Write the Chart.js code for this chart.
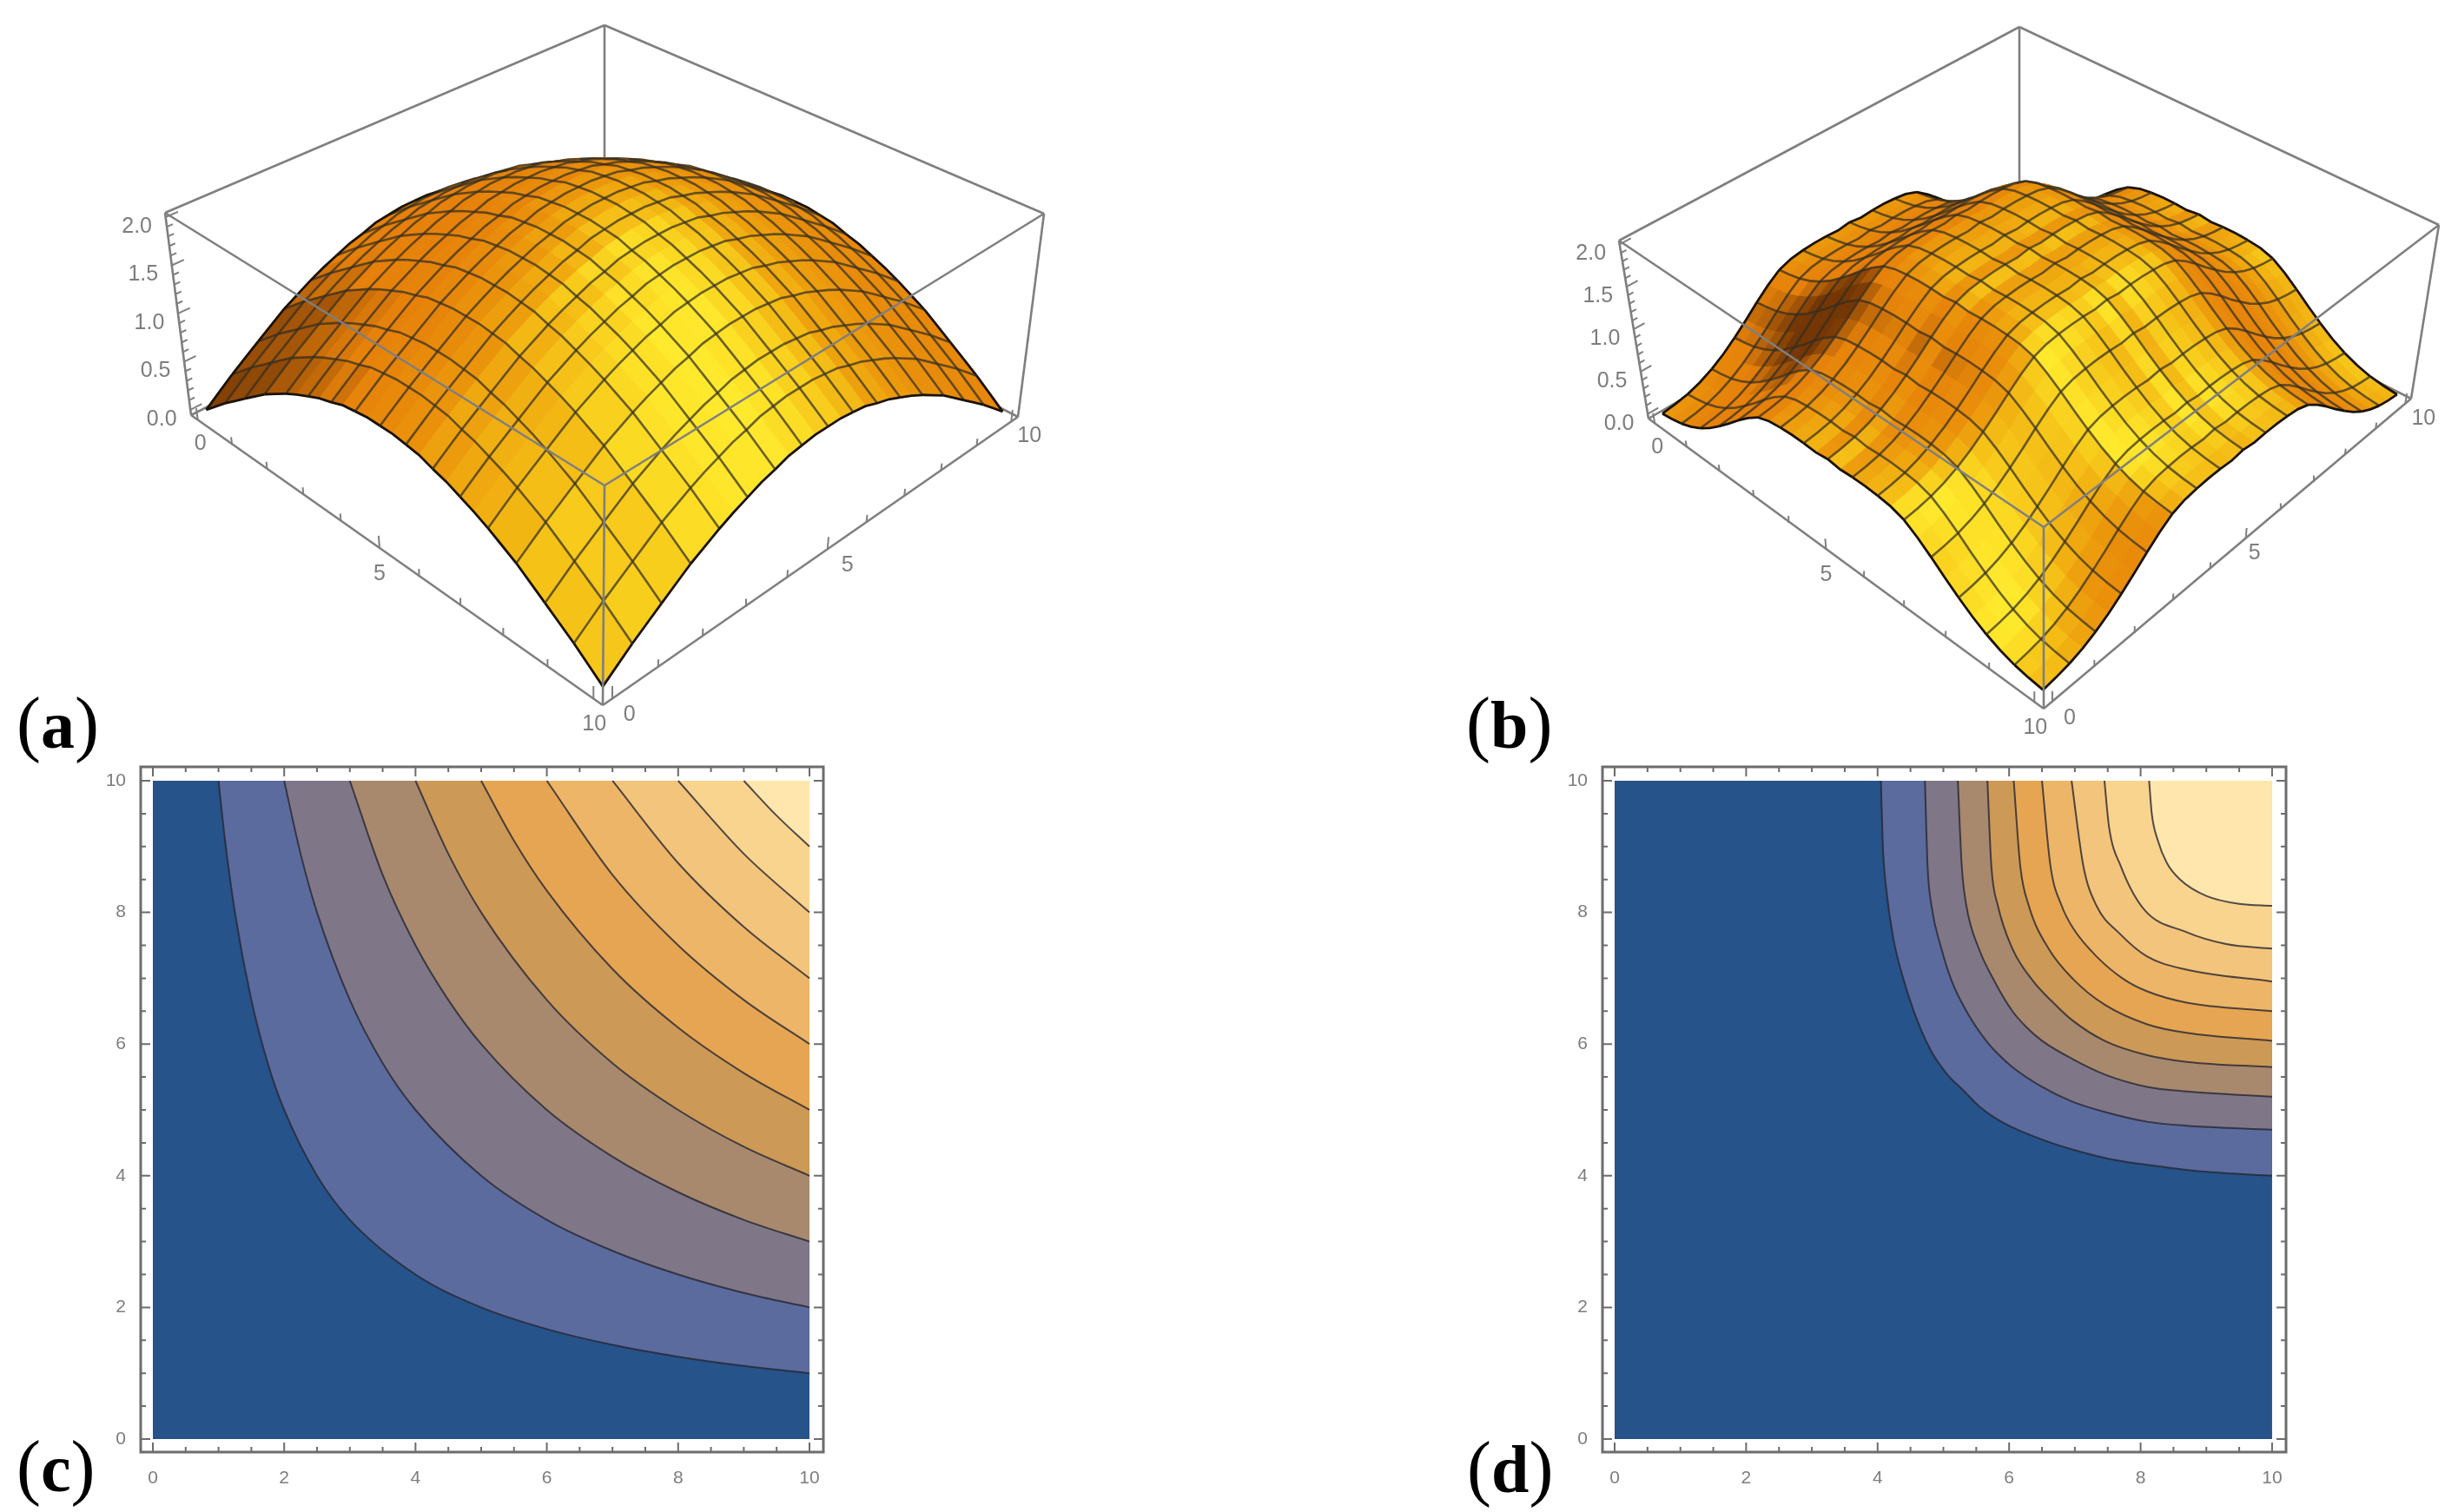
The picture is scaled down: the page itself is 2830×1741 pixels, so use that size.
<!DOCTYPE html>
<html>
<head>
<meta charset="utf-8">
<title>Surfaces and contours</title>
<script src="https://cdn.jsdelivr.net/npm/chart.js@4/dist/chart.umd.min.js"></script>
<style>
  html, body { margin: 0; background: #fff; }
  body { position: relative; width: 2830px; height: 1741px; overflow: hidden; }
  canvas { position: absolute; }
  .tag { position: absolute; font-family: "Liberation Serif", serif; font-size: 84px; line-height: 84px; color: #000; }
  .tag b { font-size: 78px; }
</style>
</head>
<body>
<canvas id="surfaceA" width="1400" height="870" style="left:0;top:0"></canvas>
<canvas id="surfaceB" width="1400" height="870" style="left:1430px;top:0"></canvas>
<canvas id="contourC" width="866" height="860" style="left:102px;top:873px"></canvas>
<canvas id="contourD" width="867" height="860" style="left:1785px;top:873px"></canvas>
<div class="tag" style="left:19px;top:791px">(<b>a</b>)</div>
<div class="tag" style="left:1688px;top:791px">(<b>b</b>)</div>
<div class="tag" style="left:19px;top:1647px">(<b>c</b>)</div>
<div class="tag" style="left:1689px;top:1648px">(<b>d</b>)</div>
<script>
// height of one side of the surface, sampled 33 times along an edge
const edgeProfileA = [0, .11, .22, .32, .42, .52, .62, .70, .78, .85, .91, .97, 1.01, 1.06, 1.08, 1.10, 1.10,
  1.10, 1.08, 1.06, 1.01, .97, .91, .85, .78, .70, .62, .52, .42, .32, .22, .11, 0];
const edgeProfileB = [0, .02, .05, .10, .17, .26, .37, .49, .62, .74, .84, .89, .91, .92, .92, .91, .93,
  .91, .92, .92, .91, .89, .84, .74, .62, .49, .37, .26, .17, .10, .05, .02, 0];

const zMajorTicks = [0, .5, 1, 1.5, 2];
const zMinorTicks = [.1, .2, .3, .4, .6, .7, .8, .9, 1.1, 1.2, 1.3, 1.4, 1.6, 1.7, 1.8, 1.9];
const zLabels = ['0.0', '0.5', '1.0', '1.5', '2.0'];
const baseMajorTicks = [0, 5, 10];
const baseMinorTicks = [1, 2, 3, 4, 6, 7, 8, 9];

// contour lines, lowest level first
const contoursC = [
  [[1, 10], [1.1, 9.09], [1.25, 8], [1.5, 6.67], [1.75, 5.71], [2, 5], [2.5, 4], [3, 3.33], [4, 2.5], [5, 2], [6, 1.67], [7, 1.43], [8, 1.25], [9, 1.11], [10, 1]],
  [[2, 10], [2.25, 8.89], [2.5, 8], [3, 6.67], [3.5, 5.71], [4, 5], [5, 4], [6, 3.33], [7, 2.86], [8, 2.5], [9, 2.22], [10, 2]],
  [[3, 10], [3.5, 8.57], [4, 7.5], [4.5, 6.67], [5, 6], [6, 5], [7, 4.29], [8, 3.75], [9, 3.33], [10, 3]],
  [[4, 10], [4.5, 8.89], [5, 8], [6, 6.67], [7, 5.71], [8, 5], [9, 4.44], [10, 4]],
  [[5, 10], [5.5, 9.09], [6, 8.33], [7, 7.14], [8, 6.25], [9, 5.56], [10, 5]],
  [[6, 10], [7, 8.57], [8, 7.5], [9, 6.67], [10, 6]],
  [[7, 10], [8, 8.75], [9, 7.78], [10, 7]],
  [[8, 10], [9, 8.89], [10, 8]],
  [[9, 10], [9.5, 9.47], [10, 9]]
];
const contoursD = [
  [[4.05, 10], [4.08, 9], [4.13, 8.37], [4.24, 7.6], [4.38, 7.03], [4.55, 6.5], [4.8, 5.92], [5.05, 5.55], [5.3, 5.3], [5.55, 5.05], [5.92, 4.8], [6.5, 4.55], [7.03, 4.38], [7.6, 4.24], [8.37, 4.13], [9, 4.06], [10, 4]],
  [[4.72, 10], [4.76, 8.7], [4.82, 8.1], [4.97, 7.45], [5.13, 6.95], [5.35, 6.5], [5.65, 6.05], [5.84, 5.84], [6.05, 5.65], [6.5, 5.35], [6.95, 5.13], [7.45, 4.97], [8.1, 4.82], [8.7, 4.76], [10, 4.7]],
  [[5.22, 10], [5.28, 8.7], [5.35, 8.1], [5.54, 7.45], [5.78, 6.95], [6.05, 6.5], [6.26, 6.26], [6.5, 6.05], [6.95, 5.78], [7.45, 5.54], [8.1, 5.35], [8.7, 5.28], [10, 5.2]],
  [[5.67, 10], [5.73, 8.7], [5.83, 8.1], [6.05, 7.45], [6.37, 6.95], [6.65, 6.65], [6.95, 6.37], [7.45, 6.05], [8.1, 5.83], [8.7, 5.73], [10, 5.65]],
  [[6.07, 10], [6.17, 8.7], [6.3, 8.1], [6.6, 7.45], [6.98, 6.98], [7.45, 6.6], [8.1, 6.3], [8.7, 6.17], [10, 6.05]],
  [[6.5, 10], [6.63, 8.7], [6.8, 8.1], [6.98, 7.75], [7.33, 7.33], [7.75, 6.98], [8.1, 6.8], [8.7, 6.63], [10, 6.5]],
  [[6.95, 10], [7.13, 8.7], [7.33, 8.1], [7.68, 7.68], [8.1, 7.33], [8.7, 7.13], [10, 6.95]],
  [[7.45, 10], [7.52, 9.3], [7.7, 8.7], [8.05, 8.05], [8.7, 7.7], [9.3, 7.52], [10, 7.45]],
  [[8.13, 10], [8.17, 9.5], [8.26, 9.1], [8.4, 8.75], [8.6, 8.5], [9, 8.25], [9.5, 8.13], [10, 8.1]]
];
const bandColors = ['#5b6b9e', '#7f7787', '#a8896d', '#cc9957', '#e6a552', '#edb568', '#f3c47b', '#f9d48e', '#fee6ac'];
const baseColor = '#26538a';

const contourMajorTicks = [0, 2, 4, 6, 8, 10];
const contourMinorTicks = [.5, 1, 1.5, 2.5, 3, 3.5, 4.5, 5, 5.5, 6.5, 7, 7.5, 8.5, 9, 9.5];

// box corners on the page: left, back, right, front
const boxA = {
  top: [[190, 245], [696, 29], [1202, 246], [696, 559]],
  base: [[220, 478], [696, 235], [1172, 480], [694, 812]],
  labelShift: { z: [-33, 11], y: [[3, 28], [0, 30], [1, 30]], x: [[20, 19], [23, 19], [21, 17]] }
};
const boxB = {
  top: [[1864, 277], [2325, 31], [2808, 259], [2353, 607]],
  base: [[1898, 482], [2325, 232], [2776, 459], [2353, 816]],
  labelShift: { z: [-33, 11], y: [[3, 28], [0, 30], [1, 30]], x: [[20, 19], [10, 17], [21, 17]] }
};

const LABEL_GRAY = '#7d7d7d';
const BOX_GRAY = '#7f7f7f';
const Z_MIN = -.055;
const Z_MAX = 2.045;
const XY_PAD = .2;

function squareToQuad(p) {
  const [[x0, y0], [x1, y1], [x2, y2], [x3, y3]] = p;
  const dx1 = x1 - x2, dx2 = x3 - x2, sx = x0 - x1 + x2 - x3;
  const dy1 = y1 - y2, dy2 = y3 - y2, sy = y0 - y1 + y2 - y3;
  const den = dx1 * dy2 - dx2 * dy1;
  const g = (sx * dy2 - dx2 * sy) / den;
  const h = (dx1 * sy - sx * dy1) / den;
  const a = x1 - x0 + g * x1, b = x3 - x0 + h * x3;
  const d = y1 - y0 + g * y1, e = y3 - y0 + h * y3;
  return (u, v) => {
    const w = g * u + h * v + 1;
    return [(a * u + b * v + x0) / w, (d * u + e * v + y0) / w];
  };
}

function makeProjector(box) {
  const baseMap = squareToQuad(box.base);
  const topMap = squareToQuad(box.top);
  return (x, y, z) => {
    const u = (x + XY_PAD) / (10 + 2 * XY_PAD);
    const v = (y + XY_PAD) / (10 + 2 * XY_PAD);
    const b = baseMap(u, v), t = topMap(u, v);
    const w = (z - Z_MIN) / (Z_MAX - Z_MIN);
    return { x: b[0] + (t[0] - b[0]) * w, y: b[1] + (t[1] - b[1]) * w };
  };
}

// colour from the facet normal, tuned by eye to the reference
function shade(zu, zv) {
  const sx = zu / 5.5, sy = zv / 5.5;
  const len = Math.sqrt(sx * sx + sy * sy + 1);
  const nr = (-sx - sy) / Math.SQRT2 / len;
  const nf = (sx - sy) / Math.SQRT2 / len;
  const nz = 1 / len;
  const dr = nr - .18, df = nf - .45;
  const glow = Math.exp(-(dr * dr / .13 + df * df / .3));
  const light = .55 * nr - .15 * nf + .8 * nz;
  const t = Math.max(0, Math.min(1, (light - .2) / .16));
  const r = (.9 + .1 * glow) * (.5 + .5 * t);
  const g = (.5 + .42 * glow) * (.42 + .58 * t);
  const b = (.04 + .14 * glow * glow) * (.42 + .58 * t);
  return `rgb(${Math.round(r * 255)},${Math.round(g * 255)},${Math.round(b * 255)})`;
}

function lineSet(points, color, width, order) {
  return { data: points, borderColor: color, borderWidth: width, pointRadius: 0, fill: false, tension: 0, order };
}

function surfaceDatasets(profile, project) {
  const sets = [];
  const n = profile.length - 1;
  const step = 10 / n;
  const pt = (i, j) => project(i * step, j * step, profile[i] + profile[j]);
  // quads, far ones first through the order field
  for (let i = 0; i < n; i++) {
    for (let j = 0; j < n; j++) {
      const zu = (profile[i + 1] - profile[i]) * n;
      const zv = (profile[j + 1] - profile[j]) * n;
      const color = shade(zu, zv);
      sets.push({
        data: [pt(i, j), pt(i + 1, j), pt(i + 1, j + 1), pt(i, j + 1), pt(i, j)],
        backgroundColor: color, borderColor: color, borderWidth: 1,
        pointRadius: 0, fill: 'shape', tension: 0, order: 1000 - (j - i) * 10
      });
    }
  }
  // mesh, every second sample
  for (let a = 0; a <= n; a += 2) {
    const edge = a === 0 || a === n;
    const color = edge ? '#1a1208' : 'rgba(50,46,34,.72)';
    const width = edge ? 2.8 : 2.6;
    for (let b = 0; b < n; b += 2) {
      sets.push(lineSet([pt(a, b), pt(a, b + 1), pt(a, b + 2)], color, width, 1000 - (b + 3 - a) * 10 - 5));
      sets.push(lineSet([pt(b, a), pt(b + 1, a), pt(b + 2, a)], color, width, 1000 - (a + 3 - b) * 10 - 5));
    }
  }
  return sets;
}

function boxDatasets(box, project) {
  const sets = [];
  const [tl, tb, tr, tf] = box.top.map(p => ({ x: p[0], y: p[1] }));
  const [bl, bb, br, bf] = box.base.map(p => ({ x: p[0], y: p[1] }));
  // behind the surface
  [[tl, tb], [tb, tr], [tb, bb], [bl, bb], [bb, br]].forEach(seg => sets.push(lineSet(seg, BOX_GRAY, 2.6, 5000)));
  // in front of it
  [[tl, tf], [tr, tf], [tf, bf], [tl, bl], [tr, br], [bl, bf], [bf, br]].forEach(seg => sets.push(lineSet(seg, BOX_GRAY, 2.6, -1000)));

  const tick = (from, to) => sets.push(lineSet([from, to], BOX_GRAY, 2, -1000));
  zMajorTicks.forEach(z => tick(project(0 - XY_PAD, 0 - XY_PAD, z), project(.05, 0 - XY_PAD, z)));
  zMinorTicks.forEach(z => tick(project(0 - XY_PAD, 0 - XY_PAD, z), project(-.08, 0 - XY_PAD, z)));
  baseMajorTicks.forEach(v => {
    tick(project(0 - XY_PAD, v, Z_MIN), project(0 - XY_PAD, v, Z_MIN + .12));
    tick(project(v, 10 + XY_PAD, Z_MIN), project(v, 10 + XY_PAD, Z_MIN + .12));
  });
  baseMinorTicks.forEach(v => {
    tick(project(0 - XY_PAD, v, Z_MIN), project(0 - XY_PAD, v, Z_MIN + .07));
    tick(project(v, 10 + XY_PAD, Z_MIN), project(v, 10 + XY_PAD, Z_MIN + .07));
  });
  return sets;
}

function drawSurface(id, profile, box, left) {
  const project = makeProjector(box);
  const canvas = document.getElementById(id);
  const labels = {
    id: 'boxLabels',
    afterDraw(chart) {
      const { ctx, scales } = chart;
      const put = (text, p, shift) => {
        ctx.fillText(text, scales.x.getPixelForValue(p.x + shift[0]), scales.y.getPixelForValue(p.y + shift[1]));
      };
      ctx.save();
      ctx.font = '25px "Liberation Sans", sans-serif';
      ctx.fillStyle = LABEL_GRAY;
      ctx.textAlign = 'center';
      ctx.textBaseline = 'middle';
      zMajorTicks.forEach((z, i) => put(zLabels[i], project(0 - XY_PAD, 0 - XY_PAD, z), box.labelShift.z));
      baseMajorTicks.forEach((v, i) => {
        put(String(v), project(0 - XY_PAD, v, Z_MIN), box.labelShift.y[i]);
        put(String(v), project(v, 10 + XY_PAD, Z_MIN), box.labelShift.x[i]);
      });
      ctx.restore();
    }
  };
  new Chart(canvas, {
    type: 'line',
    data: { datasets: surfaceDatasets(profile, project).concat(boxDatasets(box, project)) },
    plugins: [labels],
    options: {
      responsive: false,
      animation: false,
      parsing: false,
      normalized: false,
      events: [],
      layout: { padding: 0 },
      plugins: { legend: { display: false }, tooltip: { enabled: false } },
      scales: {
        x: { type: 'linear', display: false, min: left, max: left + canvas.width },
        y: { type: 'linear', display: false, reverse: true, min: 0, max: canvas.height }
      }
    }
  });
}

const frameTicks = {
  id: 'frameTicks',
  afterDraw(chart) {
    const { ctx, chartArea: area, scales } = chart;
    ctx.save();
    ctx.strokeStyle = '#6c6c6c';
    ctx.lineWidth = 2;
    const mark = (values, len) => {
      values.forEach(v => {
        const px = scales.x.getPixelForValue(v);
        const py = scales.y.getPixelForValue(v);
        ctx.beginPath();
        ctx.moveTo(px, area.bottom); ctx.lineTo(px, area.bottom - len);
        ctx.moveTo(px, area.top); ctx.lineTo(px, area.top + len);
        ctx.moveTo(area.left, py); ctx.lineTo(area.left + len, py);
        ctx.moveTo(area.right, py); ctx.lineTo(area.right - len, py);
        ctx.stroke();
      });
    };
    mark(contourMajorTicks, 11);
    mark(contourMinorTicks, 6);
    ctx.lineWidth = 3;
    ctx.strokeRect(area.left, area.top, area.right - area.left, area.bottom - area.top);
    ctx.restore();
  }
};

function drawContours(id, levels) {
  const datasets = [{
    data: [{ x: 0, y: 0 }, { x: 10, y: 0 }],
    borderWidth: 0, backgroundColor: baseColor, fill: { value: 10 }, pointRadius: 0, order: 20
  }];
  levels.forEach((level, i) => {
    datasets.push({
      data: level.map(p => ({ x: p[0], y: p[1] })),
      borderColor: 'rgba(38,38,50,.8)', borderWidth: 2, backgroundColor: bandColors[i],
      fill: { value: 10 }, pointRadius: 0, cubicInterpolationMode: 'monotone', order: 10 - i
    });
  });
  const tickSetup = {
    display: true,
    grid: { display: false },
    border: { display: false }
  };
  const tickFont = { family: '"Liberation Sans", sans-serif', size: 21 };
  const setTicks = scale => { scale.ticks = contourMajorTicks.map(value => ({ value })); };
  new Chart(document.getElementById(id), {
    type: 'line',
    data: { datasets },
    plugins: [frameTicks],
    options: {
      responsive: false,
      animation: false,
      events: [],
      layout: { padding: { top: 10, right: 20, left: 0, bottom: 0 } },
      plugins: { legend: { display: false }, tooltip: { enabled: false } },
      scales: {
        x: {
          ...tickSetup, type: 'linear', min: -.185, max: 10.212,
          afterBuildTicks: setTicks,
          afterFit: scale => { scale.height = 61; scale.paddingLeft = 0; scale.paddingRight = 0; },
          ticks: { color: LABEL_GRAY, font: tickFont, padding: 10, maxRotation: 0, autoSkip: false }
        },
        y: {
          ...tickSetup, type: 'linear', min: -.198, max: 10.211,
          afterBuildTicks: setTicks,
          afterFit: scale => { scale.width = 60; scale.paddingTop = 0; scale.paddingBottom = 0; },
          ticks: { color: LABEL_GRAY, font: tickFont, padding: 9, autoSkip: false }
        }
      }
    }
  });
}

drawSurface('surfaceA', edgeProfileA, boxA, 0);
drawSurface('surfaceB', edgeProfileB, boxB, 1430);
drawContours('contourC', contoursC);
drawContours('contourD', contoursD);
</script>
</body>
</html>
